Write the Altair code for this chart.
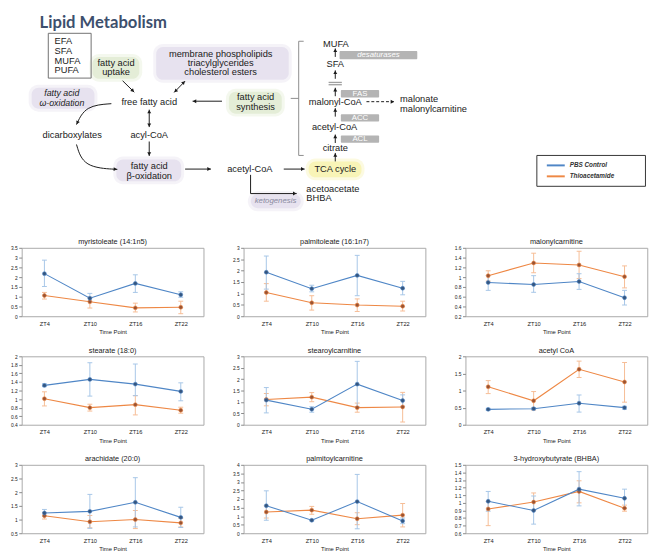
import math
import altair as alt
import pandas as pd

# ---------------- chart data ----------------
TIME = ["ZT4", "ZT10", "ZT16", "ZT22"]
SERIES = ["PBS Control", "Thioacetamide"]

MYR_PBS = [2.18, 0.92, 1.68, 1.10]
MYR_PBS_LO = [1.52, 0.77, 1.22, 0.97]
MYR_PBS_HI = [2.87, 1.17, 2.12, 1.25]
MYR_TAA = [1.06, 0.74, 0.43, 0.46]
MYR_TAA_LO = [0.88, 0.42, 0.22, 0.13]
MYR_TAA_HI = [1.22, 0.97, 0.67, 0.77]

PAL_PBS = [1.93, 1.21, 1.79, 1.23]
PAL_PBS_LO = [1.19, 1.07, 0.90, 0.94]
PAL_PBS_HI = [2.64, 1.36, 2.67, 1.53]
PAL_TAA = [1.04, 0.59, 0.49, 0.44]
PAL_TAA_LO = [0.66, 0.27, 0.21, 0.23]
PAL_TAA_HI = [1.43, 0.90, 0.76, 0.66]

MAL_PBS = [0.89, 0.85, 0.91, 0.58]
MAL_PBS_LO = [0.73, 0.69, 0.75, 0.43]
MAL_PBS_HI = [1.03, 1.03, 1.07, 0.73]
MAL_TAA = [1.03, 1.29, 1.25, 1.01]
MAL_TAA_LO = [0.92, 1.09, 0.97, 0.78]
MAL_TAA_HI = [1.13, 1.49, 1.53, 1.23]

STE_PBS = [1.32, 1.46, 1.35, 1.18]
STE_PBS_LO = [1.29, 1.07, 1.08, 0.96]
STE_PBS_HI = [1.36, 1.85, 1.82, 1.38]
STE_TAA = [1.01, 0.80, 0.87, 0.74]
STE_TAA_LO = [0.84, 0.72, 0.63, 0.67]
STE_TAA_HI = [1.17, 0.88, 1.08, 0.81]

STC_PBS = [1.08, 0.68, 1.78, 1.06]
STC_PBS_LO = [0.52, 0.55, 0.80, 0.81]
STC_PBS_HI = [1.63, 0.79, 2.78, 1.31]
STC_TAA = [1.11, 1.21, 0.75, 0.78]
STC_TAA_LO = [0.83, 1.01, 0.55, 0.12]
STC_TAA_HI = [1.37, 1.41, 0.95, 1.42]

ACO_PBS = [0.45, 0.47, 0.63, 0.50]
ACO_PBS_LO = [0.42, 0.44, 0.37, 0.45]
ACO_PBS_HI = [0.48, 0.50, 0.87, 0.54]
ACO_TAA = [1.11, 0.70, 1.62, 1.25]
ACO_TAA_LO = [0.91, 0.43, 1.38, 0.66]
ACO_TAA_HI = [1.29, 0.97, 1.86, 1.82]

ARA_PBS = [1.24, 1.30, 1.63, 1.08]
ARA_PBS_LO = [1.12, 0.68, 0.73, 0.71]
ARA_PBS_HI = [1.37, 1.92, 2.53, 1.45]
ARA_TAA = [1.14, 0.92, 1.00, 0.88]
ARA_TAA_LO = [1.02, 0.70, 0.67, 0.73]
ARA_TAA_HI = [1.26, 1.15, 1.33, 1.04]

PMC_PBS = [1.61, 0.76, 1.85, 0.72]
PMC_PBS_LO = [0.76, 0.72, 0.26, 0.56]
PMC_PBS_HI = [2.48, 0.80, 3.44, 0.89]
PMC_TAA = [1.24, 1.35, 0.85, 1.06]
PMC_TAA_LO = [0.89, 1.11, 0.50, 0.37]
PMC_TAA_HI = [1.59, 1.57, 1.20, 1.74]

BHB_PBS = [1.02, 0.90, 1.18, 1.06]
BHB_PBS_LO = [0.89, 0.72, 0.96, 0.93]
BHB_PBS_HI = [1.15, 1.09, 1.41, 1.18]
BHB_TAA = [0.92, 1.01, 1.15, 0.93]
BHB_TAA_LO = [0.70, 0.90, 1.00, 0.89]
BHB_TAA_HI = [1.02, 1.13, 1.29, 0.97]

PANELS = [
    ("myristoleate (14:1n5)", (MYR_PBS, MYR_PBS_LO, MYR_PBS_HI), (MYR_TAA, MYR_TAA_LO, MYR_TAA_HI), (0, 3.5, 0.5)),
    ("palmitoleate (16:1n7)", (PAL_PBS, PAL_PBS_LO, PAL_PBS_HI), (PAL_TAA, PAL_TAA_LO, PAL_TAA_HI), (0, 3, 0.5)),
    ("malonylcarnitine", (MAL_PBS, MAL_PBS_LO, MAL_PBS_HI), (MAL_TAA, MAL_TAA_LO, MAL_TAA_HI), (0.2, 1.6, 0.2)),
    ("stearate (18:0)", (STE_PBS, STE_PBS_LO, STE_PBS_HI), (STE_TAA, STE_TAA_LO, STE_TAA_HI), (0.4, 2.0, 0.2)),
    ("stearoylcarnitine", (STC_PBS, STC_PBS_LO, STC_PBS_HI), (STC_TAA, STC_TAA_LO, STC_TAA_HI), (0, 3, 0.5)),
    ("acetyl CoA", (ACO_PBS, ACO_PBS_LO, ACO_PBS_HI), (ACO_TAA, ACO_TAA_LO, ACO_TAA_HI), (0, 2, 0.5)),
    ("arachidate (20:0)", (ARA_PBS, ARA_PBS_LO, ARA_PBS_HI), (ARA_TAA, ARA_TAA_LO, ARA_TAA_HI), (0.5, 3, 0.5)),
    ("palmitoylcarnitine", (PMC_PBS, PMC_PBS_LO, PMC_PBS_HI), (PMC_TAA, PMC_TAA_LO, PMC_TAA_HI), (0, 4, 0.5)),
    ("3-hydroxybutyrate (BHBA)", (BHB_PBS, BHB_PBS_LO, BHB_PBS_HI), (BHB_TAA, BHB_TAA_LO, BHB_TAA_HI), (0.6, 1.5, 0.1)),
]

# ---------------- styles ----------------
FONT = "Liberation Sans"
LINE_COLORS = ["#4f86c6", "#ee8845"]
ERR_COLORS = ["#a6c6e7", "#f6bc94"]
PT_COLORS = ["#35567f", "#9a5332"]
INK = "#1a1a1a"
PAD_LEFT = 2

# ---------------- diagram layout ----------------
DIAG_W, DIAG_H = 651, 216
DX = [22, 660.6]
DY = [13.1, 225.2]
XS = alt.Scale(domain=DX, nice=False, zero=False)
YS = alt.Scale(domain=DY, nice=False, zero=False, reverse=True)

TITLE_TEXT = ["Lipid Metabolism"]
TITLE_POS = [(40, 21.5)]

CENTER_TEXT = ["fatty acid", "uptake", "membrane phospholipids", "triacylglycerides", "cholesterol esters",
               "free fatty acid", "fatty acid", "synthesis", "dicarboxylates", "acyl-CoA",
               "fatty acid", "β-oxidation", "acetyl-CoA", "TCA cycle",
               "MUFA", "SFA", "malonyl-CoA", "acetyl-CoA", "citrate"]
CENTER_POS = [(116.7, 61), (116.7, 70.7), (221.7, 51.7), (221.7, 61.3), (221.7, 70.7),
              (150, 100), (256.7, 95.7), (256.7, 105.3), (72.7, 133.3), (150, 133.3),
              (150, 164.3), (150, 174.3), (251, 167.7), (336.7, 167.7),
              (337.3, 41.7), (336.7, 62.7), (336.7, 100), (336, 125), (336.7, 146.7)]

LEFT_TEXT = ["EFA", "SFA", "MUFA", "PUFA", "malonate", "malonylcarnitine", "acetoacetate", "BHBA"]
LEFT_POS = [(55, 39), (55, 49), (55, 59), (55, 68.5), (401.7, 97.7), (401.7, 107.3), (307.7, 187.7), (307.7, 197)]

ITALIC_TEXT = ["fatty acid", "ω-oxidation"]
ITALIC_POS = [(62.3, 91), (62.3, 101)]

KETO_TEXT = ["ketogenesis"]
KETO_POS = [(276.7, 199.5)]

ENZ_ITALIC_TEXT = ["desaturases"]
ENZ_ITALIC_BOX = [(341, 49, 419, 57.3)]
ENZ_TEXT = ["FAS", "ACC", "ACL"]
ENZ_BOX = [(342.3, 88.3, 380.7, 95.7), (342.3, 112.7, 380.7, 120), (342.3, 134, 380.7, 141.3)]
BAR_BOX = [(330, 80, 343.3, 81.3), (330, 82.3, 343.3, 83.6)]

GLOW_GREEN = [(93, 55, 140, 77), (230, 90, 283, 112)]
GLOW_PURPLE = [(157, 45, 290, 78), (32, 86, 95, 107), (117, 158, 182, 180), (252, 193, 302, 207)]
GLOW_YELLOW = [(310, 160, 363, 176)]

EFA_BOX = [(48.7, 31.3, 91.7, 76.3)]
LEGEND_BOX = [(539, 154, 648, 185)]
LEGEND_ROWS = [164, 175]
LEGEND_X = (549, 567, 572)

ARROWS = [
    (123.3, 79.0, 135.0, 90.5, "end"),
    (175.0, 90.7, 186.0, 79.3, "both"),
    (223.0, 99.5, 193.5, 99.5, "end"),
    (150.0, 108.0, 150.0, 125.5, "both"),
    (150.0, 140.0, 150.0, 154.5, "end"),
    (186.0, 167.7, 212.0, 167.7, "end"),
    (285.0, 167.7, 306.0, 167.7, "end"),
    (336.7, 160.0, 336.7, 151.5, "end"),
    (336.7, 141.5, 336.7, 133.0, "end"),
    (336.7, 115.0, 336.7, 106.5, "end"),
    (336.7, 94.5, 336.7, 86.0, "end"),
    (336.7, 77.0, 336.7, 68.5, "end"),
    (336.7, 55.0, 336.7, 46.5, "end"),
]
DASHED = [(368.0, 100.0, 396.0, 100.0)]
POLYLINES = [[(251.7, 173.5), (251.7, 192.3), (298.0, 192.3)]]
CURVES = [[(112, 102), (86, 104), (77, 123)], [(77, 143), (84, 166), (118, 168)]]
BRACKETS = [[(305, 39.3), (300, 39.3), (300, 154), (305, 154)], [(300, 96.7), (292, 96.7)]]


def xq(f="x"):
    return alt.X(f + ":Q", scale=XS, axis=None)


def yq(f="y"):
    return alt.Y(f + ":Q", scale=YS, axis=None)


def text_layer(texts, pos, **kw):
    df = pd.DataFrame({"text": texts, "x": [p[0] for p in pos], "y": [p[1] for p in pos]})
    return alt.Chart(df).mark_text(baseline="middle", **kw).encode(x=xq(), y=yq(), text="text:N")


def rect_layer(boxes, grow=0, **kw):
    df = pd.DataFrame({"x": [b[0] - grow for b in boxes], "y": [b[1] - grow for b in boxes],
                       "x2": [b[2] + grow for b in boxes], "y2": [b[3] + grow for b in boxes]})
    return alt.Chart(df).mark_rect(**kw).encode(x=xq(), y=yq(), x2="x2:Q", y2="y2:Q")


def glow(boxes, color):
    return [rect_layer(boxes, grow=3, color=color, cornerRadius=10, opacity=0.35),
            rect_layer(boxes, grow=0, color=color, cornerRadius=7, opacity=0.75)]


def head(x, y, dx, dy):
    n = math.hypot(dx, dy)
    ux, uy = dx / n, dy / n
    ang = math.degrees(math.atan2(ux, -uy)) % 360
    return (x - 2.0 * ux, y - 2.0 * uy, ang)


heads = []
for (x1, y1, x2, y2, kind) in ARROWS:
    heads.append(head(x2, y2, x2 - x1, y2 - y1))
    if kind == "both":
        heads.append(head(x1, y1, x1 - x2, y1 - y2))
for (x1, y1, x2, y2) in DASHED:
    heads.append(head(x2, y2, x2 - x1, y2 - y1))
for pl in POLYLINES + CURVES:
    (ax, ay), (bx, by) = pl[-2], pl[-1]
    heads.append(head(bx, by, bx - ax, by - ay))

seg_df = pd.DataFrame({"x": [a[0] for a in ARROWS], "y": [a[1] for a in ARROWS],
                       "x2": [a[2] for a in ARROWS], "y2": [a[3] for a in ARROWS]})
dash_df = pd.DataFrame({"x": [a[0] for a in DASHED], "y": [a[1] for a in DASHED],
                        "x2": [a[2] for a in DASHED], "y2": [a[3] for a in DASHED]})
head_df = pd.DataFrame({"x": [h[0] for h in heads], "y": [h[1] for h in heads], "angle": [h[2] for h in heads]})


def poly_df(lines):
    rows = []
    for i, pl in enumerate(lines):
        for k, (x, y) in enumerate(pl):
            rows.append({"id": i, "k": k, "x": x, "y": y})
    return pd.DataFrame(rows)


def centers(boxes):
    return [((b[0] + b[2]) / 2, (b[1] + b[3]) / 2 + 0.3) for b in boxes]


leg_df = pd.DataFrame({"series": SERIES, "y": LEGEND_ROWS,
                       "x": [LEGEND_X[0]] * 2, "x2": [LEGEND_X[1]] * 2, "tx": [LEGEND_X[2]] * 2})

DFS = 9.5
diagram_layers = glow(GLOW_GREEN, "#dfeacf") + glow(GLOW_PURPLE, "#e1dcec") + glow(GLOW_YELLOW, "#f7f1a8") + [
    rect_layer(EFA_BOX, fill="white", fillOpacity=0, stroke="#707070", strokeWidth=1),
    rect_layer(ENZ_ITALIC_BOX + ENZ_BOX, color="#b4b4b4", cornerRadius=1),
    rect_layer(BAR_BOX, color="#a0a0a0"),
    alt.Chart(seg_df).mark_rule(color=INK, strokeWidth=1).encode(x=xq(), y=yq(), x2="x2:Q", y2="y2:Q"),
    alt.Chart(dash_df).mark_rule(color=INK, strokeWidth=1, strokeDash=[3, 2]).encode(x=xq(), y=yq(), x2="x2:Q", y2="y2:Q"),
    alt.Chart(poly_df(POLYLINES)).mark_line(color=INK, strokeWidth=1).encode(x=xq(), y=yq(), detail="id:N", order="k:Q"),
    alt.Chart(poly_df(CURVES)).mark_line(color=INK, strokeWidth=1, interpolate="basis").encode(x=xq(), y=yq(), detail="id:N", order="k:Q"),
    alt.Chart(poly_df(BRACKETS)).mark_line(color="#8c8c8c", strokeWidth=1).encode(x=xq(), y=yq(), detail="id:N", order="k:Q"),
    alt.Chart(head_df).mark_point(shape="triangle-up", filled=True, size=16, color=INK, opacity=1).encode(
        x=xq(), y=yq(), angle=alt.Angle("angle:Q", scale=None)),
    text_layer(TITLE_TEXT, TITLE_POS, align="left", font="Lato", fontSize=17, fontWeight="bold", color="#3d4f6d"),
    text_layer(CENTER_TEXT, CENTER_POS, align="center", font=FONT, fontSize=DFS, color=INK),
    text_layer(LEFT_TEXT, LEFT_POS, align="left", font=FONT, fontSize=DFS, color=INK),
    text_layer(ITALIC_TEXT, ITALIC_POS, align="center", font=FONT, fontSize=9, fontStyle="italic", color=INK),
    text_layer(KETO_TEXT, KETO_POS, align="center", font=FONT, fontSize=8, fontStyle="italic", color="#8a8aa0"),
    text_layer(ENZ_ITALIC_TEXT, centers(ENZ_ITALIC_BOX), align="center", font=FONT, fontSize=8,
               fontStyle="italic", color="white"),
    text_layer(ENZ_TEXT, centers(ENZ_BOX), align="center", font=FONT, fontSize=8, color="white"),
    rect_layer(LEGEND_BOX, fill="white", stroke="#333333", strokeWidth=1),
    alt.Chart(leg_df).mark_rule(strokeWidth=2).encode(
        x=xq(), y=yq(), x2="x2:Q",
        color=alt.Color("series:N", scale=alt.Scale(domain=SERIES, range=LINE_COLORS), legend=None)),
    alt.Chart(leg_df).mark_text(align="left", baseline="middle", font=FONT, fontSize=6.5,
                                fontStyle="italic", fontWeight="bold", color="#333333").encode(
        x=xq("tx"), y=yq(), text="series:N"),
]

diagram = alt.layer(*diagram_layers).properties(
    width=DIAG_W, height=DIAG_H,
    view=alt.ViewBackground(stroke="transparent"))


# ---------------- small multiples ----------------
def panel(title, pbs, taa, yaxis):
    ymin, ymax, ystep = yaxis
    n = int(round((ymax - ymin) / ystep))
    ticks = [round(ymin + i * ystep, 2) for i in range(n + 1)]
    xenc = alt.X("time:N", sort=TIME, scale=alt.Scale(type="point", padding=0.5, domain=TIME),
                 axis=alt.Axis(title="Time Point", labelAngle=0, labelFontSize=5.8, titleFontSize=6,
                               titleFontWeight="normal", ticks=False, domain=False, labelPadding=4,
                               titlePadding=3, labelColor="#222", titleColor="#222"))
    yscale = alt.Scale(domain=[ymin, ymax], nice=False, zero=False)
    yaxis_def = alt.Axis(values=ticks, format="~g", title=None, labelFontSize=5, tickSize=3,
                         labelPadding=1.5, domain=False, grid=False, tickColor="#888", labelColor="#222")

    def Y(f):
        return alt.Y(f + ":Q", scale=yscale, axis=yaxis_def)

    bars, lines, pts = [], [], []
    for i, (m, lo, hi) in reversed(list(enumerate([pbs, taa]))):
        df = pd.DataFrame({"time": TIME, "mean": m, "lo": lo, "hi": hi})
        base = alt.Chart(df)
        bars.append(base.mark_rule(color=ERR_COLORS[i], strokeWidth=1).encode(x=xenc, y=Y("lo"), y2="hi:Q"))
        bars.append(base.mark_tick(color=ERR_COLORS[i], size=5, thickness=1, opacity=1).encode(x=xenc, y=Y("lo")))
        bars.append(base.mark_tick(color=ERR_COLORS[i], size=5, thickness=1, opacity=1).encode(x=xenc, y=Y("hi")))
        lines.append(base.mark_line(color=LINE_COLORS[i], strokeWidth=1.1).encode(x=xenc, y=Y("mean")))
        pts.append(base.mark_circle(color=PT_COLORS[i], size=16, opacity=1, stroke=LINE_COLORS[i],
                                    strokeWidth=0.6).encode(x=xenc, y=Y("mean")))
    return alt.layer(*(bars + lines + pts)).properties(
        width=186, height=70,
        title=alt.TitleParams(title, fontSize=7.5, fontWeight="normal", offset=0, color="#222", font=FONT))


panels = [panel(*p) for p in PANELS]
rows = [alt.hconcat(*panels[i:i + 3], spacing=28) for i in range(0, 9, 3)]

chart = alt.vconcat(diagram, *rows, spacing=11).properties(
    padding={"left": PAD_LEFT, "top": 0, "right": 0, "bottom": 0}).configure_view(
    stroke="#a9a9a9", strokeWidth=1).configure_axis(labelFont=FONT, titleFont=FONT)

chart.save("out.html", embed_options={"renderer": "svg", "actions": False})
